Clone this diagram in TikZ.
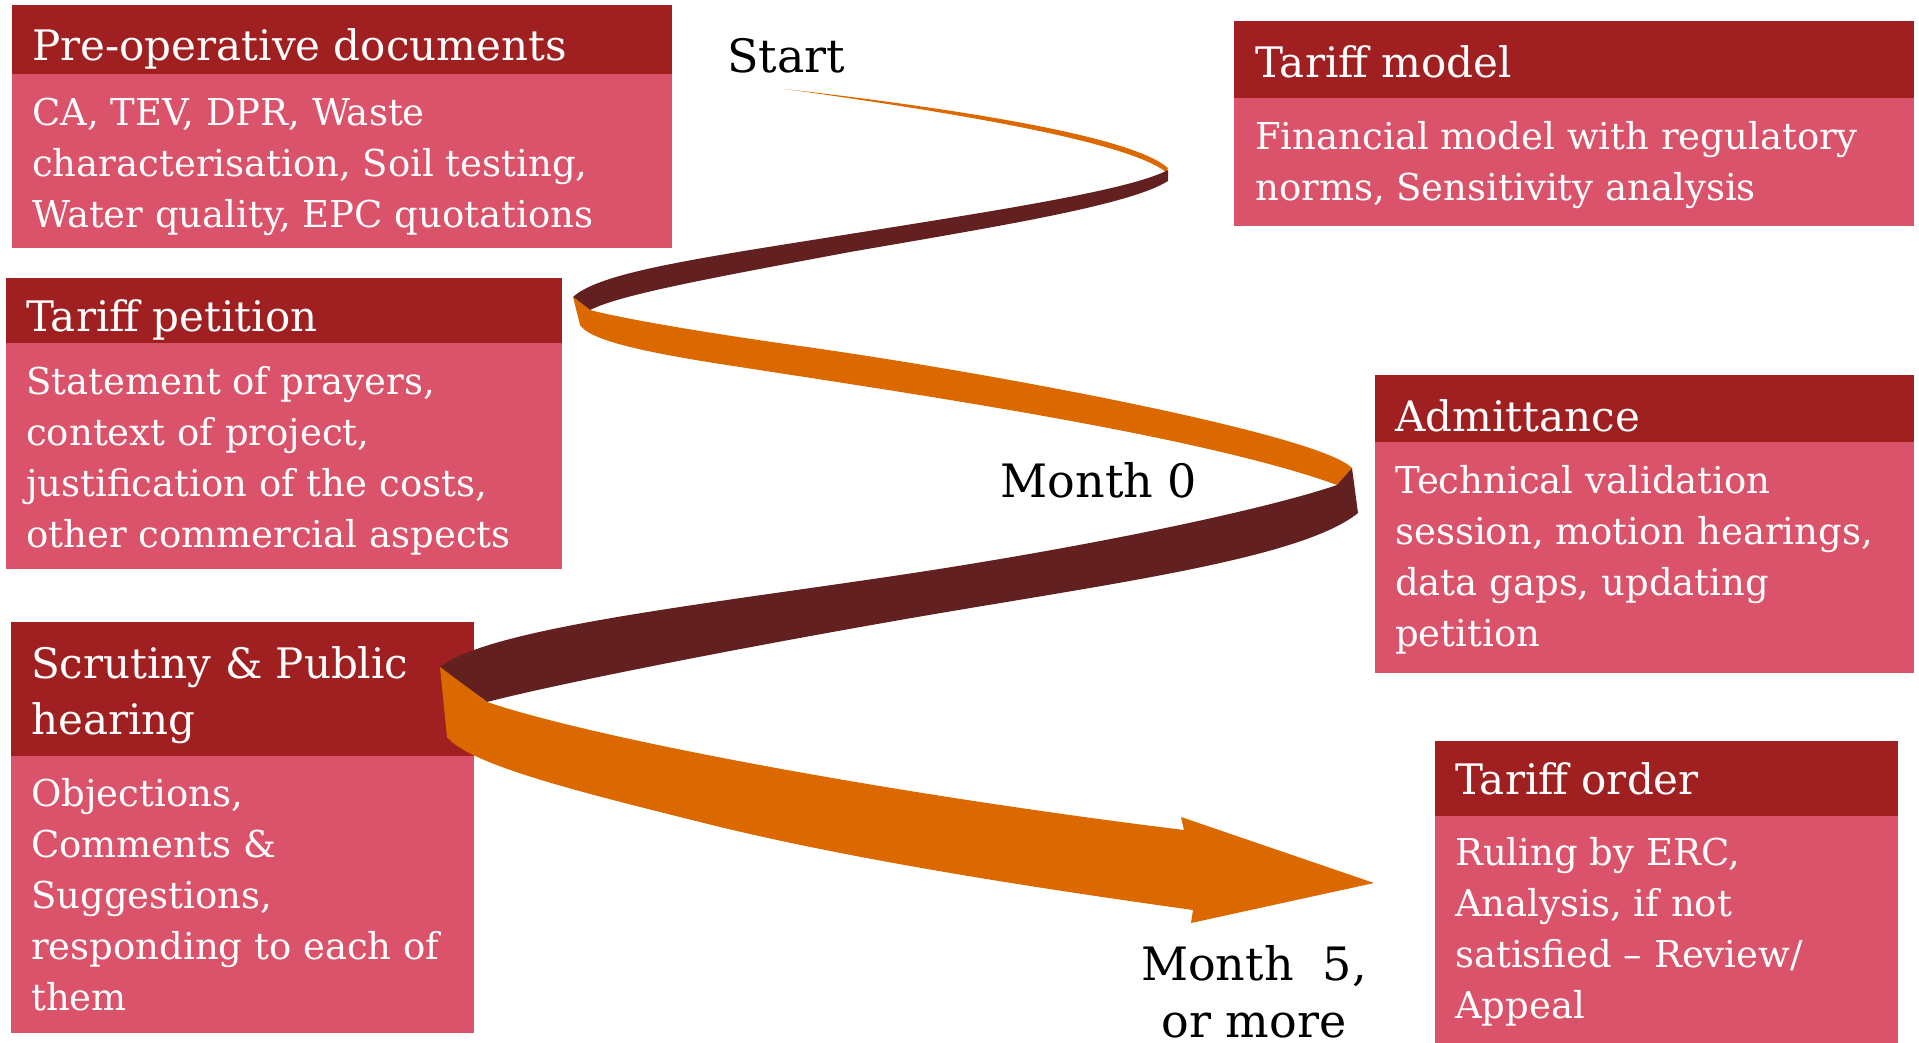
\documentclass[tikz,border=0pt]{standalone}
\usepackage{fontspec}
\setmainfont{DejaVu Serif}
\usepackage{tikz}

\definecolor{headred}{HTML}{A01F20}
\definecolor{bodyred}{HTML}{DB536A}
\definecolor{ribbonorange}{HTML}{DB6900}
\definecolor{ribbondark}{HTML}{622120}

\tikzset{
    headbar/.style={fill=headred, anchor=north west, inner sep=0pt, outer sep=0pt},
    bodybar/.style={fill=bodyred, anchor=north west, inner sep=0pt, outer sep=0pt},
    headtext/.style={text=white, anchor=base west, align=left, inner sep=0pt, font=\fontsize{42}{56}\selectfont},
    bodytext/.style={text=white, anchor=base west, align=left, inner sep=0pt, font=\fontsize{37}{51}\selectfont},
    milestone/.style={anchor=base, align=center, inner sep=0pt, font=\fontsize{46}{57}\selectfont},
    front/.style={fill=ribbonorange},
    back/.style={fill=ribbondark}
}

\begin{document}
\begin{tikzpicture}[x=1pt, y=-1pt]
        \useasboundingbox (0,0) rectangle (1919,1042);

        \node[headbar, minimum width=660pt, minimum height=69pt] (prehead) at (12,5) {};
        \node[bodybar, minimum width=660pt, minimum height=174pt] (prebody) at (prehead.south west) {};
        \node[headtext] (pretitle) at (32,60) {Pre-operative documents};
        \node[bodytext] (pretext) at (32,227) {CA, TEV, DPR, Waste\\characterisation, Soil testing,\\Water quality, EPC quotations};

        \node[headbar, minimum width=680pt, minimum height=77pt] (modelhead) at (1234,21) {};
        \node[bodybar, minimum width=680pt, minimum height=128pt] (modelbody) at (modelhead.south west) {};
        \node[headtext] (modeltitle) at (1255,77) {Tariff model};
        \node[bodytext] (modeltext) at (1255,200) {Financial model with regulatory\\norms, Sensitivity analysis};

        \node[headbar, minimum width=556pt, minimum height=65pt] (petitionhead) at (6,278) {};
        \node[bodybar, minimum width=556pt, minimum height=226pt] (petitionbody) at (petitionhead.south west) {};
        \node[headtext] (petitiontitle) at (26,331) {Tariff petition};
        \node[bodytext] (petitiontext) at (26,547) {Statement of prayers,\\context of project,\\justification of the costs,\\other commercial aspects};

        \node[headbar, minimum width=539pt, minimum height=67pt] (admithead) at (1375,375) {};
        \node[bodybar, minimum width=539pt, minimum height=231pt] (admitbody) at (admithead.south west) {};
        \node[headtext] (admittitle) at (1395,431) {Admittance};
        \node[bodytext] (admittext) at (1395,646) {Technical validation\\session, motion hearings,\\data gaps, updating\\petition};

        \node[headbar, minimum width=463pt, minimum height=134pt] (hearinghead) at (11,622) {};
        \node[bodybar, minimum width=463pt, minimum height=277pt] (hearingbody) at (hearinghead.south west) {};
        \node[headtext] (hearingtitle) at (31,734) {Scrutiny \& Public\\hearing};
        \node[bodytext] (hearingtext) at (31,1010) {Objections,\\Comments \&\\Suggestions,\\responding to each of\\them};

        \node[headbar, minimum width=463pt, minimum height=75pt] (orderhead) at (1435,741) {};
        \node[bodybar, minimum width=463pt, minimum height=240pt] (orderbody) at (orderhead.south west) {};
        \node[headtext] (ordertitle) at (1455,794) {Tariff order};
        \node[bodytext] (ordertext) at (1455,1018) {Ruling by ERC,\\Analysis, if not\\satisfied -- Review/\\Appeal};

        \fill[front] (785,89) .. controls (950,108) and (1130,135) .. (1168,168) -- (1166,172) .. controls (1126,141) and (950,112) .. (785,89) -- cycle;
        \fill[back] (1168,170) .. controls (1130,190) and (1000,210) .. (850,234) .. controls (700,258) and (600,272) .. (573,297) -- (590,310) .. controls (620,295) and (700,280) .. (850,252) .. controls (1000,226) and (1130,205) .. (1168,181) -- cycle;
        \fill[front] (590,310) .. controls (620,318) and (700,332) .. (800,346) .. controls (1000,374) and (1320,435) .. (1352,468) -- (1337,485) .. controls (1200,435) and (900,392) .. (740,367) .. controls (640,352) and (590,340) .. (580,325) -- (573,297) -- cycle;
        \fill[back] (1337,485) .. controls (1270,508) and (1100,545) .. (900,575) .. controls (700,605) and (490,628) .. (440,667) -- (487,702) .. controls (540,688) and (700,655) .. (900,620) .. controls (1100,585) and (1300,560) .. (1358,513) -- (1352,468) -- cycle;
        \fill[front] (487,702) .. controls (600,740) and (900,795) .. (1184,830) -- (1181,817) -- (1374,883) -- (1191,923) -- (1193,910) .. controls (1050,890) and (850,860) .. (700,822) .. controls (580,792) and (470,765) .. (447,737) -- (440,667) -- cycle;

        \node[milestone] (start) at (786,72) {Start};
        \node[milestone] (monthzero) at (1099,497) {Month 0};
        \node[milestone] (monthfive) at (1254,1037) {Month\ \ 5,\\or more};
\end{tikzpicture}
\end{document}
